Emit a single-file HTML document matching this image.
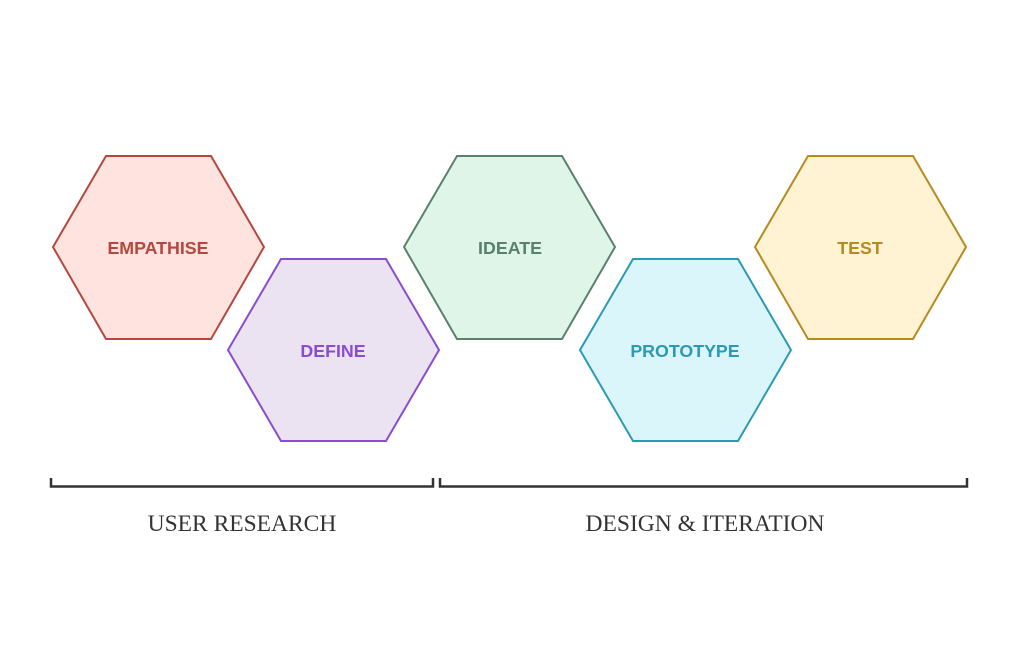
<!DOCTYPE html>
<html><head><meta charset="utf-8"><style>html,body{margin:0;padding:0;background:#fff}</style></head><body>
<svg width="1024" height="652" viewBox="0 0 1024 652" xmlns="http://www.w3.org/2000/svg">
<rect width="1024" height="652" fill="#fff"/>
<g stroke-width="2" font-family="Liberation Sans, sans-serif" font-size="17.8" font-weight="bold" text-anchor="middle">
<polygon points="53,247 106,156 211,156 264,247 211,339 106,339" fill="#fee3df" stroke="#b5473f"/>
<text x="158" y="254" fill="#b5473f" stroke="none">EMPATHISE</text>
<polygon points="228,350 281,259 386,259 439,350 386,441 281,441" fill="#ebe3f1" stroke="#8a4cd0"/>
<text x="333" y="357" fill="#8a4cd0" stroke="none">DEFINE</text>
<polygon points="404,247 457,156 562,156 615,247 562,339 457,339" fill="#dff5e8" stroke="#5a816c"/>
<text x="510" y="254" fill="#5a816c" stroke="none">IDEATE</text>
<polygon points="580,350 633,259 738,259 791,350 738,441 633,441" fill="#dbf6fb" stroke="#2a9ab5"/>
<text x="685" y="357" fill="#2a9ab5" stroke="none">PROTOTYPE</text>
<polygon points="755,247 808,156 913,156 966,247 913,339 808,339" fill="#fff3d3" stroke="#b58a20"/>
<text x="860" y="254" fill="#b58a20" stroke="none">TEST</text>
</g>
<g fill="none" stroke="#333" stroke-width="2.5">
<polyline points="51,478 51,486.5 433,486.5 433,478"/>
<polyline points="440,478 440,486.5 967,486.5 967,478"/>
</g>
<g font-family="Liberation Serif, serif" font-size="23.5" fill="#333" text-anchor="middle">
<text x="242" y="531">USER RESEARCH</text>
<text x="705" y="531">DESIGN &amp; ITERATION</text>
</g>
</svg>
</body></html>
